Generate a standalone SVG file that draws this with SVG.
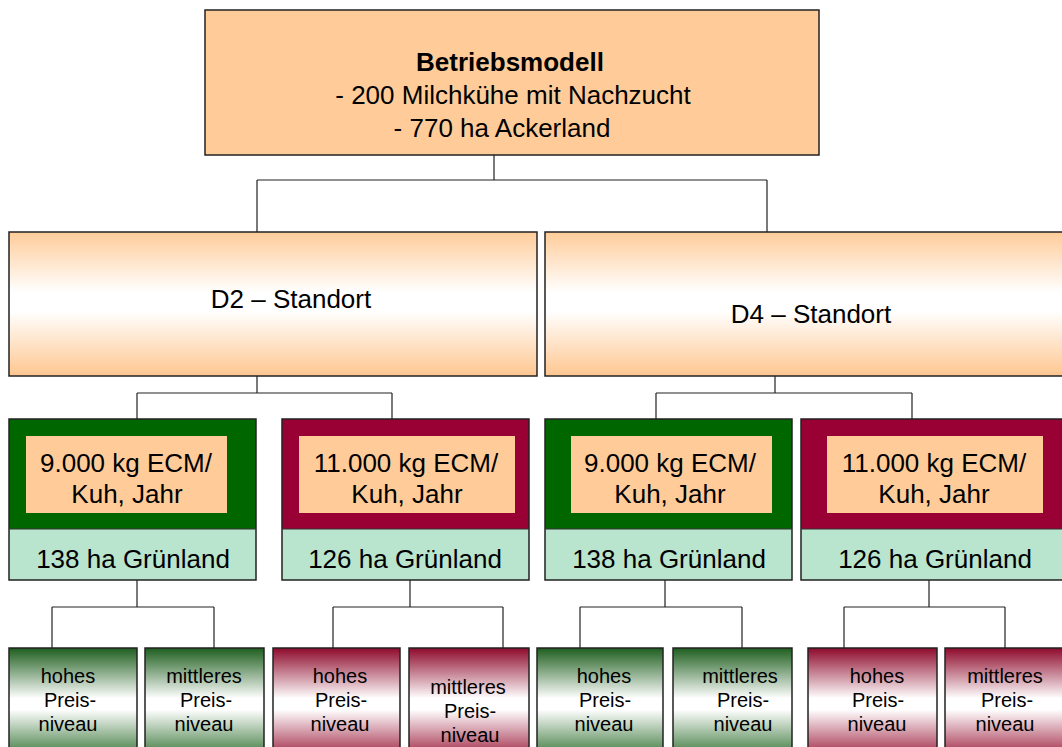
<svg xmlns="http://www.w3.org/2000/svg" width="1062" height="747" viewBox="0 0 1062 747">
<defs>
<linearGradient id="gOr" x1="0" y1="0" x2="0" y2="1">
<stop offset="0" stop-color="#FFCC99"/><stop offset="0.42" stop-color="#FFFFFF"/><stop offset="0.55" stop-color="#FFFFFF"/><stop offset="1" stop-color="#FFC690"/>
</linearGradient>
<linearGradient id="gGr" x1="0" y1="0" x2="0" y2="1">
<stop offset="0" stop-color="#1E5E1E"/><stop offset="0.45" stop-color="#FFFFFF"/><stop offset="0.55" stop-color="#FFFFFF"/><stop offset="1" stop-color="#2E6E2E"/>
</linearGradient>
<linearGradient id="gRd" x1="0" y1="0" x2="0" y2="1">
<stop offset="0" stop-color="#8E0A2C"/><stop offset="0.45" stop-color="#FFFFFF"/><stop offset="0.55" stop-color="#FFFFFF"/><stop offset="1" stop-color="#9A1838"/>
</linearGradient>
</defs>
<style>
.t{font-family:"Liberation Sans",Arial,sans-serif;fill:#000;text-anchor:middle}
.big{font-size:26px}
.sm{font-size:20px}
.b{font-weight:bold}
.bx{stroke:#222;stroke-width:1.5}
.or{fill:#FFCC99}
.dg{fill:#006600}
.dr{fill:#990033}
.lg{fill:#B9E4CE}
.cn{fill:none;stroke:#222;stroke-width:1.2}
</style>
<rect width="1062" height="747" fill="#FFFFFF"/>
<g id="connectors">
<path class="cn" d="M494,155 V180 M257,180 H767 M257,180 V232 M767,180 V232"/>
<path class="cn" d="M257,376 V393 M137,393 H392 M137,393 V419 M392,393 V419"/>
<path class="cn" d="M775,376 V393 M656,393 H912 M656,393 V419 M912,393 V419"/>
<path class="cn" d="M137,580 V607 M52,607 H214 M52,607 V648 M214,607 V648"/>
<path class="cn" d="M410,580 V607 M333,607 H503 M333,607 V648 M503,607 V648"/>
<path class="cn" d="M665,580 V607 M580,607 H742 M580,607 V648 M742,607 V648"/>
<path class="cn" d="M929,580 V607 M844,607 H1005 M844,607 V648 M1005,607 V648"/>
</g>
<g id="betriebsmodell">
<rect class="bx or" x="205" y="10" width="614" height="145"/>
<text class="t big b" x="510" y="71">Betriebsmodell</text>
<text class="t big" x="513" y="104">- 200 Milchkühe mit Nachzucht</text>
<text class="t big" x="502" y="137">- 770 ha Ackerland</text>
</g>
<g id="d2">
<rect class="bx" x="9" y="232" width="528" height="144" fill="url(#gOr)"/>
<text class="t big" x="291" y="308">D2 – Standort</text>
</g>
<g id="d4">
<rect class="bx" x="545" y="232" width="525" height="144" fill="url(#gOr)"/>
<text class="t big" x="811" y="323">D4 – Standort</text>
</g>
<g id="d2-9000">
<rect class="dg" x="9" y="419" width="247" height="110"/>
<rect class="lg" x="9" y="529" width="247" height="51"/>
<rect class="bx" x="9" y="419" width="247" height="161" fill="none"/>
<line x1="9" y1="529" x2="256" y2="529" stroke="#333" stroke-width="1"/>
<rect class="or" x="26" y="436" width="201" height="77"/>
<text class="t big" x="126" y="472">9.000 kg ECM/</text>
<text class="t big" x="127" y="503">Kuh, Jahr</text>
<text class="t big" x="133" y="568">138 ha Grünland</text>
</g>
<g id="d2-11000">
<rect class="dr" x="282" y="419" width="247" height="110"/>
<rect class="lg" x="282" y="529" width="247" height="51"/>
<rect class="bx" x="282" y="419" width="247" height="161" fill="none"/>
<line x1="282" y1="529" x2="529" y2="529" stroke="#333" stroke-width="1"/>
<rect class="or" x="299" y="436" width="216" height="77"/>
<text class="t big" x="406" y="472">11.000 kg ECM/</text>
<text class="t big" x="407" y="503">Kuh, Jahr</text>
<text class="t big" x="405" y="568">126 ha Grünland</text>
</g>
<g id="d4-9000">
<rect class="dg" x="545" y="419" width="247" height="110"/>
<rect class="lg" x="545" y="529" width="247" height="51"/>
<rect class="bx" x="545" y="419" width="247" height="161" fill="none"/>
<line x1="545" y1="529" x2="792" y2="529" stroke="#333" stroke-width="1"/>
<rect class="or" x="571" y="436" width="201" height="77"/>
<text class="t big" x="670" y="472">9.000 kg ECM/</text>
<text class="t big" x="670" y="503">Kuh, Jahr</text>
<text class="t big" x="669" y="568">138 ha Grünland</text>
</g>
<g id="d4-11000">
<rect class="dr" x="801" y="419" width="261" height="110"/>
<rect class="lg" x="801" y="529" width="261" height="51"/>
<rect class="bx" x="801" y="419" width="270" height="161" fill="none"/>
<line x1="801" y1="529" x2="1062" y2="529" stroke="#333" stroke-width="1"/>
<rect class="or" x="827" y="436" width="216" height="77"/>
<text class="t big" x="934" y="472">11.000 kg ECM/</text>
<text class="t big" x="934" y="503">Kuh, Jahr</text>
<text class="t big" x="935" y="568">126 ha Grünland</text>
</g>
<g id="l1">
<rect class="bx" x="9" y="648" width="128" height="112" fill="url(#gGr)"/>
<text class="t sm" x="68" y="683">hohes</text><text class="t sm" x="70" y="707">Preis-</text><text class="t sm" x="68" y="731">niveau</text>
</g>
<g id="l2">
<rect class="bx" x="145" y="648" width="119" height="112" fill="url(#gGr)"/>
<text class="t sm" x="204" y="683">mittleres</text><text class="t sm" x="206" y="707">Preis-</text><text class="t sm" x="204" y="731">niveau</text>
</g>
<g id="l3">
<rect class="bx" x="273" y="648" width="127" height="112" fill="url(#gRd)"/>
<text class="t sm" x="340" y="683">hohes</text><text class="t sm" x="341" y="707">Preis-</text><text class="t sm" x="340" y="731">niveau</text>
</g>
<g id="l4">
<rect class="bx" x="409" y="648" width="120" height="112" fill="url(#gRd)"/>
<text class="t sm" x="468" y="694">mittleres</text><text class="t sm" x="470" y="718">Preis-</text><text class="t sm" x="470" y="742">niveau</text>
</g>
<g id="l5">
<rect class="bx" x="537" y="648" width="126" height="112" fill="url(#gGr)"/>
<text class="t sm" x="604" y="683">hohes</text><text class="t sm" x="605" y="707">Preis-</text><text class="t sm" x="604" y="731">niveau</text>
</g>
<g id="l6">
<rect class="bx" x="673" y="648" width="119" height="112" fill="url(#gGr)"/>
<text class="t sm" x="740" y="683">mittleres</text><text class="t sm" x="743" y="707">Preis-</text><text class="t sm" x="743" y="731">niveau</text>
</g>
<g id="l7">
<rect class="bx" x="808" y="648" width="129" height="112" fill="url(#gRd)"/>
<text class="t sm" x="877" y="683">hohes</text><text class="t sm" x="878" y="707">Preis-</text><text class="t sm" x="877" y="731">niveau</text>
</g>
<g id="l8">
<rect class="bx" x="945" y="648" width="125" height="112" fill="url(#gRd)"/>
<text class="t sm" x="1005" y="683">mittleres</text><text class="t sm" x="1007" y="707">Preis-</text><text class="t sm" x="1005" y="731">niveau</text>
</g>
</svg>
